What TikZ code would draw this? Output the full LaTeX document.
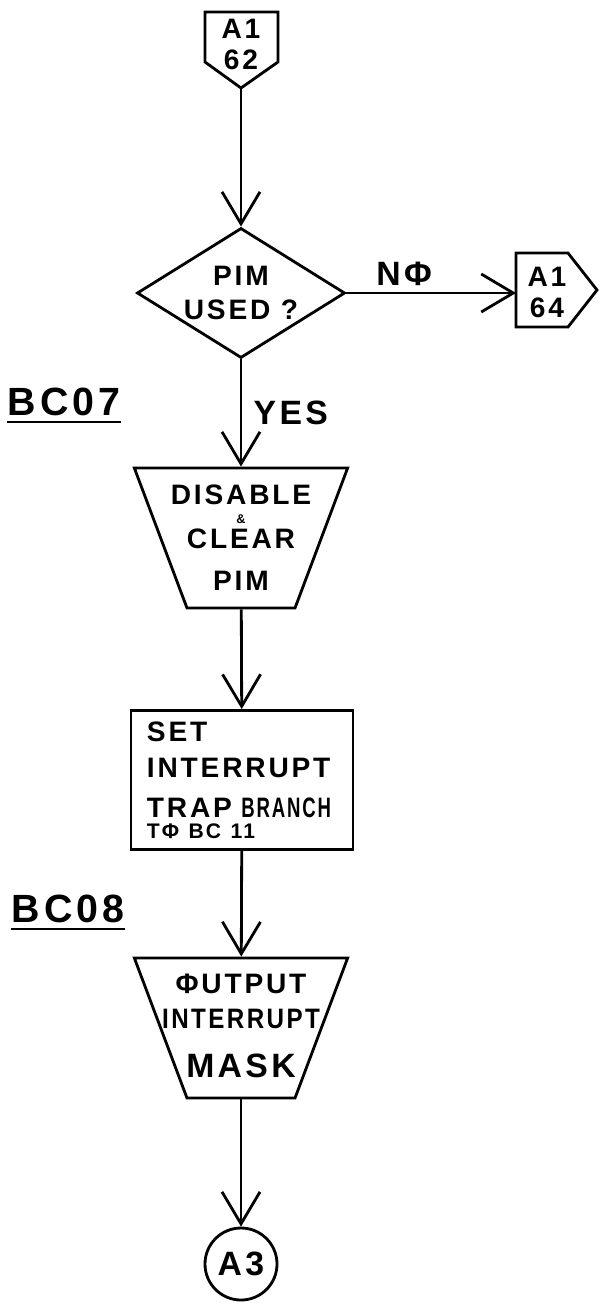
\documentclass[tikz,border=0pt]{standalone}
\usepackage{fontspec}
\usepackage{graphicx}
\newfontfamily\handfont[LetterSpace=10, UprightFont={* Bold}]{Liberation Sans}
\usetikzlibrary{shapes.geometric, arrows.meta, positioning}

\begin{document}
\begin{tikzpicture}[
        x=0.025cm, y=-0.025cm,
        flow/.style={draw, line width=2pt, inner sep=0pt, font=\handfont\fontsize{20}{24}\selectfont},
        decision/.style={flow, diamond, aspect=1.6, minimum width=5.2cm, minimum height=3.25cm, align=center},
        manual/.style={flow, trapezium, shape border rotate=180, trapezium angle=69.4, inner xsep=1.35cm, inner ysep=1.75cm},
        process/.style={flow, rectangle, minimum width=5.55cm, minimum height=3.475cm, text width=4.75cm, inner xsep=0.4cm, align=left},
        onpage/.style={flow, circle, minimum size=1.8cm, font=\handfont\fontsize{24}{28}\selectfont},
        offpage/.style={line width=2pt, line join=miter},
        note/.style={inner sep=0pt, align=center, font=\handfont\fontsize{20}{24}\selectfont},
        flowlabel/.style={inner sep=0pt, font=\handfont\fontsize{24}{28}\selectfont},
        tag/.style={inner sep=0pt, anchor=base, font=\handfont\fontsize{28}{32}\selectfont},
        arrow/.style={-{Straight Barb[length=8mm, width=9.5mm]}, line width=2pt}
    ]
        \useasboundingbox (0,0) rectangle (600,1311);
        \fill[white] (0,0) rectangle (600,1311);

        % Entry connector
        \node[note] (a162) at (241,44) {A1\\[-2pt]62};
        \draw[offpage] (205,12) -- (278,12) -- (278,62) -- (241,88) coordinate (a162tip) -- (205,62) -- cycle;

        % Decision
        \node[decision] (pim) at (241,293) {PIM\\USED ?};

        % Exit connector
        \node[note] (a164) at (547,292) {A1\\[-2pt]64};
        \draw[offpage] (516,253) -- (568,253) -- (597,290) -- (568,327) -- (516,327) -- cycle;
        \coordinate (a164in) at (516,293);

        % Steps
        \node[manual] (disable) at (241,538) {};
        \node[note] (disabletxt) at (241,538) {DISABLE\\[-11pt]{\fontsize{9}{9}\selectfont\&}\\[-6pt]CLEAR\\[6pt]PIM};

        \node[process] (settrap) at (242,780) {SET\\[2pt]INTERRUPT\\[4pt]\mbox{TRAP \scalebox{0.66}[1]{BRANCH}}\\[-9pt]{\fontsize{15}{15}\selectfont TΦ BC 11}};

        \node[manual] (mask) at (241,1028) {};
        \node[note] (masktxt) at (241,1026) {ΦUTPUT\\[1pt]\scalebox{0.86}[1]{INTERRUPT}\\[11pt]{\fontsize{24}{24}\selectfont MASK}};

        \node[onpage] (a3) at (241,1264) {A3};

        % Step labels
        \node[tag] (bc07) at (64,415) {BC07};
        \draw[line width=2pt] ([yshift=-5pt]bc07.base west) -- ([yshift=-5pt]bc07.base east);
        \node[tag] (bc08) at (68,922) {BC08};
        \draw[line width=2pt] ([yshift=-5pt]bc08.base west) -- ([yshift=-5pt]bc08.base east);

        % Arrows
        \draw[arrow] (a162tip) -- (pim);
        \draw[arrow] (pim) -- node[flowlabel, above=4pt, pos=0.34] (no) {NΦ} (a164in);
        \draw[arrow] (pim) -- node[flowlabel, right=8pt] (yes) {YES} (disable);
        \draw[arrow] (disable) -- (settrap);
        \draw[arrow] (settrap) -- (mask);
        \draw[arrow] (mask) -- (a3);
    \end{tikzpicture}
\end{document}
